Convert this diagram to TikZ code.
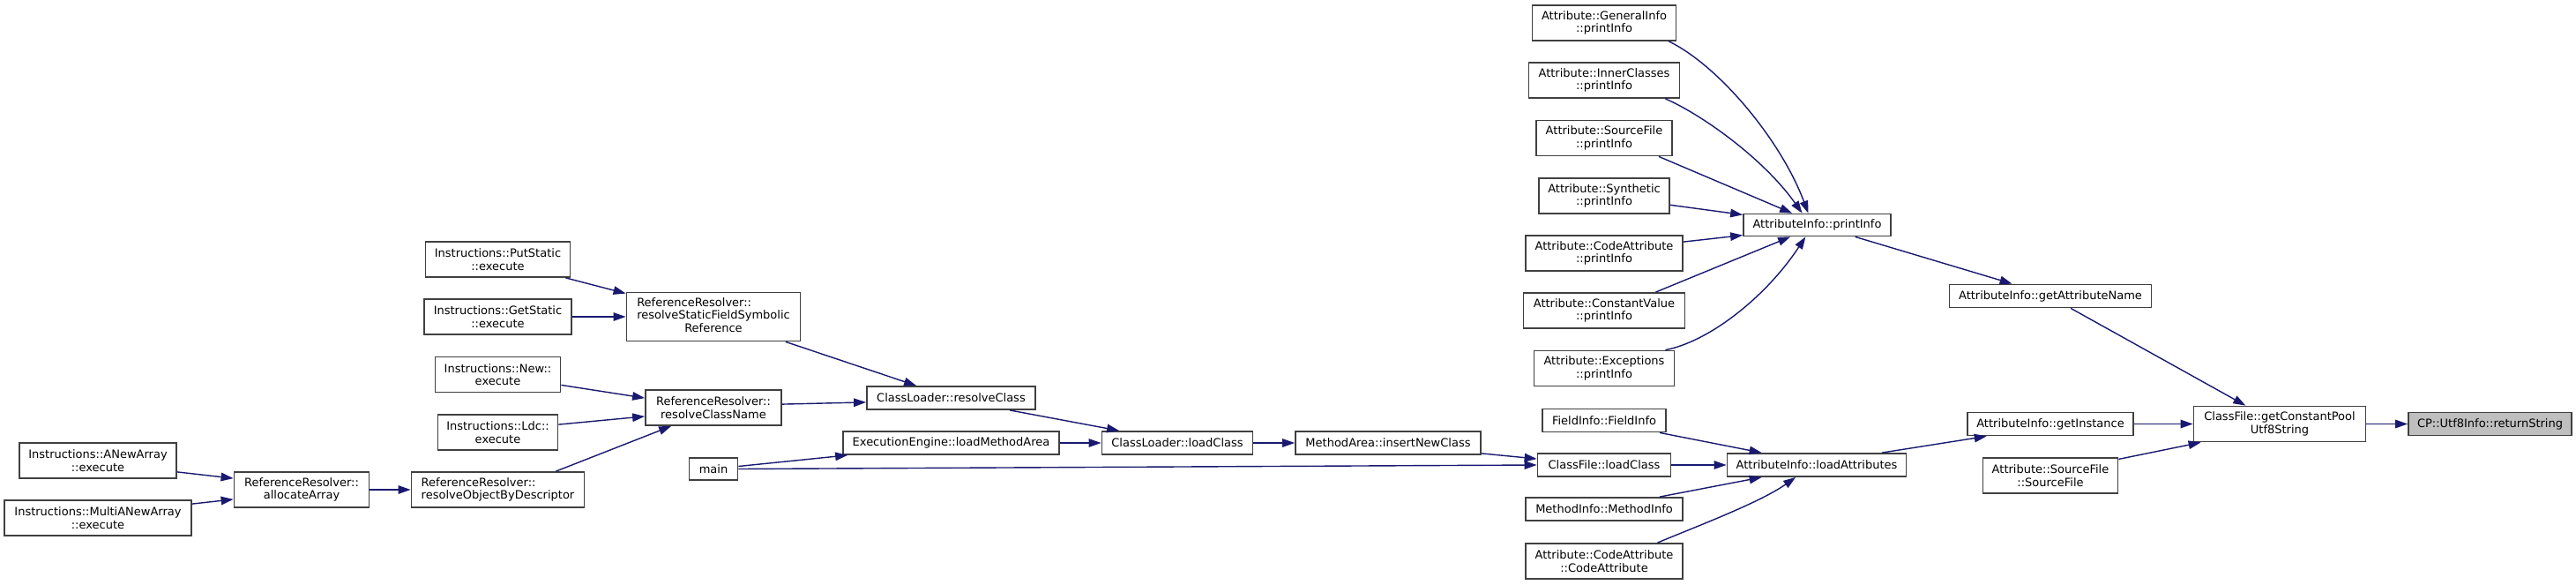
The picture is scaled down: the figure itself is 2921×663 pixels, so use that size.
\documentclass[tikz,border=0pt]{standalone}
\usepackage{fontspec}
\setmainfont{DejaVu Sans}
\usetikzlibrary{arrows.meta,calc}
\definecolor{edgec}{HTML}{191970}
\definecolor{boxc}{HTML}{404040}
\definecolor{hlc}{HTML}{BFBFBF}
\begin{document}
\begin{tikzpicture}[x=1pt,y=-1pt,
  fn/.style={draw=boxc, line width=1.8pt, fill=white, inner sep=0pt, align=center,
             font=\fontsize{13}{14.5}\selectfont},
  ed/.style={draw=edgec, line width=1.4pt, -{Triangle[length=14pt,width=9.5pt]}}]
\fill[white] (0,0) rectangle (2921,663);
\useasboundingbox (0,0) rectangle (2921,663);

% column 1
\node[fn, minimum width=178pt, minimum height=40pt] (anew) at (111,522) {Instructions::ANewArray\\::execute};
\node[fn, minimum width=212pt, minimum height=40pt] (manew) at (111,587) {Instructions::MultiANewArray\\::execute};
% column 2
\node[fn, minimum width=153pt, minimum height=40pt] (alloc) at (342,555) {ReferenceResolver::\\allocateArray};
% column 3
\node[fn, minimum width=164pt, minimum height=40pt] (putst) at (564.5,294) {Instructions::PutStatic\\::execute};
\node[fn, minimum width=167pt, minimum height=40pt] (getst) at (564.5,359) {Instructions::GetStatic\\::execute};
\node[fn, minimum width=142pt, minimum height=40pt] (newex) at (564.5,424.5) {Instructions::New::\\execute};
\node[fn, minimum width=136pt, minimum height=40pt] (ldc) at (564.5,490) {Instructions::Ldc::\\execute};
\node[fn, minimum width=196pt, minimum height=40pt, align=left] (robd) at (564.5,555) {ReferenceResolver::\\resolveObjectByDescriptor};
% column 4
\node[fn, minimum width=197pt, minimum height=55pt] (rsf) at (809,359) {\begin{tabular}{@{}l@{}}ReferenceResolver::\\resolveStaticFieldSymbolic\\\multicolumn{1}{@{}c@{}}{Reference}\end{tabular}};
\node[fn, minimum width=154pt, minimum height=40pt] (rcn) at (809,462) {ReferenceResolver::\\resolveClassName};
\node[fn, minimum width=55pt, minimum height=25pt] (main) at (809,531.5) {main};
% column 5
\node[fn, minimum width=191pt, minimum height=26pt] (clrc) at (1078.5,451) {ClassLoader::resolveClass};
\node[fn, minimum width=245pt, minimum height=26pt] (eelma) at (1078.5,502) {ExecutionEngine::loadMethodArea};
% column 6, 7
\node[fn, minimum width=171pt, minimum height=26pt] (cllc) at (1335,502) {ClassLoader::loadClass};
\node[fn, minimum width=210pt, minimum height=26pt] (mainc) at (1574,502) {MethodArea::insertNewClass};
% column 8
\node[fn, minimum width=163pt, minimum height=40pt] (gen) at (1819,26) {Attribute::GeneralInfo\\::printInfo};
\node[fn, minimum width=171pt, minimum height=40pt] (inner) at (1819,91) {Attribute::InnerClasses\\::printInfo};
\node[fn, minimum width=154pt, minimum height=40pt] (srcp) at (1819,156.5) {Attribute::SourceFile\\::printInfo};
\node[fn, minimum width=148pt, minimum height=40pt] (syn) at (1819,222) {Attribute::Synthetic\\::printInfo};
\node[fn, minimum width=178pt, minimum height=40pt] (codep) at (1819,287) {Attribute::CodeAttribute\\::printInfo};
\node[fn, minimum width=183pt, minimum height=40pt] (constv) at (1819,352) {Attribute::ConstantValue\\::printInfo};
\node[fn, minimum width=159pt, minimum height=40pt] (exc) at (1819,417.5) {Attribute::Exceptions\\::printInfo};
\node[fn, minimum width=140pt, minimum height=26pt] (field) at (1819,476.5) {FieldInfo::FieldInfo};
\node[fn, minimum width=151pt, minimum height=26pt] (cflc) at (1819,527) {ClassFile::loadClass};
\node[fn, minimum width=178pt, minimum height=26pt] (meth) at (1819,577) {MethodInfo::MethodInfo};
\node[fn, minimum width=178pt, minimum height=40pt] (codec) at (1819,636) {Attribute::CodeAttribute\\::CodeAttribute};
% column 9
\node[fn, minimum width=167pt, minimum height=25pt] (aipi) at (2060.5,255) {AttributeInfo::printInfo};
\node[fn, minimum width=203pt, minimum height=26pt] (aila) at (2060,527) {AttributeInfo::loadAttributes};
% column 10
\node[fn, minimum width=229pt, minimum height=26pt] (aigan) at (2325,335.5) {AttributeInfo::getAttributeName};
\node[fn, minimum width=188pt, minimum height=26pt] (aigi) at (2325,480.5) {AttributeInfo::getInstance};
\node[fn, minimum width=153pt, minimum height=40pt] (sfsf) at (2325,539) {Attribute::SourceFile\\::SourceFile};
% column 11, 12
\node[fn, minimum width=195pt, minimum height=40pt] (gcpu) at (2585,480.5) {ClassFile::getConstantPool\\Utf8String};
\node[fn, fill=hlc, minimum width=185pt, minimum height=26pt] (ret) at (2823.5,480.5) {CP::Utf8Info::returnString};

% edges
\draw[ed] ($(anew.south east)+(0,-8)$) -- ($(alloc.north west)+(0,8)$);
\draw[ed] ($(manew.north east)+(0,5)$) -- ($(alloc.south west)+(0,-10)$);
\draw[ed] (alloc.east) -- (robd.west);
\draw[ed] ($(robd.north east)+(-33,0)$) -- ($(rcn.south west)+(30,0)$);
\draw[ed] ($(newex.south east)+(0,-9)$) -- ($(rcn.north west)+(0,10)$);
\draw[ed] ($(ldc.north east)+(0,12)$) -- ($(rcn.south west)+(0,-11)$);
\draw[ed] ($(putst.south east)+(-6,0)$) -- ($(rsf.north west)+(0,2)$);
\draw[ed] (getst.east) -- (rsf.west);
\draw[ed] ($(rsf.south east)+(-17.5,0)$) -- ($(clrc.north west)+(57,0)$);
\draw[ed] ($(rcn.north east)+(0,17)$) -- ($(clrc.south west)+(0,-9)$);
\draw[ed] ($(main.east)+(0,-3)$) -- ($(eelma.south west)+(6,0)$);
\draw[ed] (main.east) -- (cflc.west);
\draw[ed] ($(clrc.south east)+(-30,0)$) -- ($(cllc.north west)+(20.5,0)$);
\draw[ed] (eelma.east) -- (cllc.west);
\draw[ed] (cllc.east) -- (mainc.west);
\draw[ed] ($(mainc.south east)+(0,-2)$) -- ($(cflc.west)+(0,-7)$);
\draw[ed] ($(field.south east)+(-8,0)$) -- ($(aila.north west)+(40,0)$);
\draw[ed] (cflc.east) -- (aila.west);
\draw[ed] ($(meth.north east)+(-27,0)$) -- ($(aila.south west)+(40,0)$);
\draw[ed] ($(codec.north east)+(-29.4,0)$) .. controls (1920,598) and (1995,570) .. ($(aila.south west)+(78.5,0)$);
\draw[ed] ($(aila.north east)+(-28.5,0)$) -- ($(aigi.south west)+(22.6,0)$);
\draw[ed] (aigi.east) -- (gcpu.west);
\draw[ed] ($(sfsf.north east)+(0,2.3)$) -- ($(gcpu.south west)+(9,0)$);
\draw[ed] ($(aigan.south west)+(138.5,0)$) -- ($(gcpu.north west)+(59.7,0)$);
\draw[ed] (gcpu.east) -- (ret.west);
\draw[ed] ($(aipi.south west)+(127.5,0)$) -- ($(aigan.north west)+(72,0)$);
\draw[ed] ($(gen.south east)+(-9,0)$) .. controls (1950,75) and (2020,160) .. ($(aipi.north west)+(74.3,0)$);
\draw[ed] ($(inner.south east)+(-17,0)$) .. controls (1930,130) and (2000,180) .. ($(aipi.north west)+(67.4,0)$);
\draw[ed] ($(srcp.south east)+(-16,0)$) -- ($(aipi.north west)+(56,0)$);
\draw[ed] ($(syn.east)+(0,10.3)$) -- ($(aipi.north west)+(0,1.8)$);
\draw[ed] ($(codep.north east)+(0,8)$) -- ($(aipi.south west)+(0,-1.8)$);
\draw[ed] ($(constv.north east)+(-34,0)$) -- ($(aipi.south west)+(54,0)$);
\draw[ed] ($(exc.north east)+(-11,0)$) .. controls (1935,388) and (2000,340) .. ($(aipi.south west)+(71.3,0)$);
\end{tikzpicture}
\end{document}
